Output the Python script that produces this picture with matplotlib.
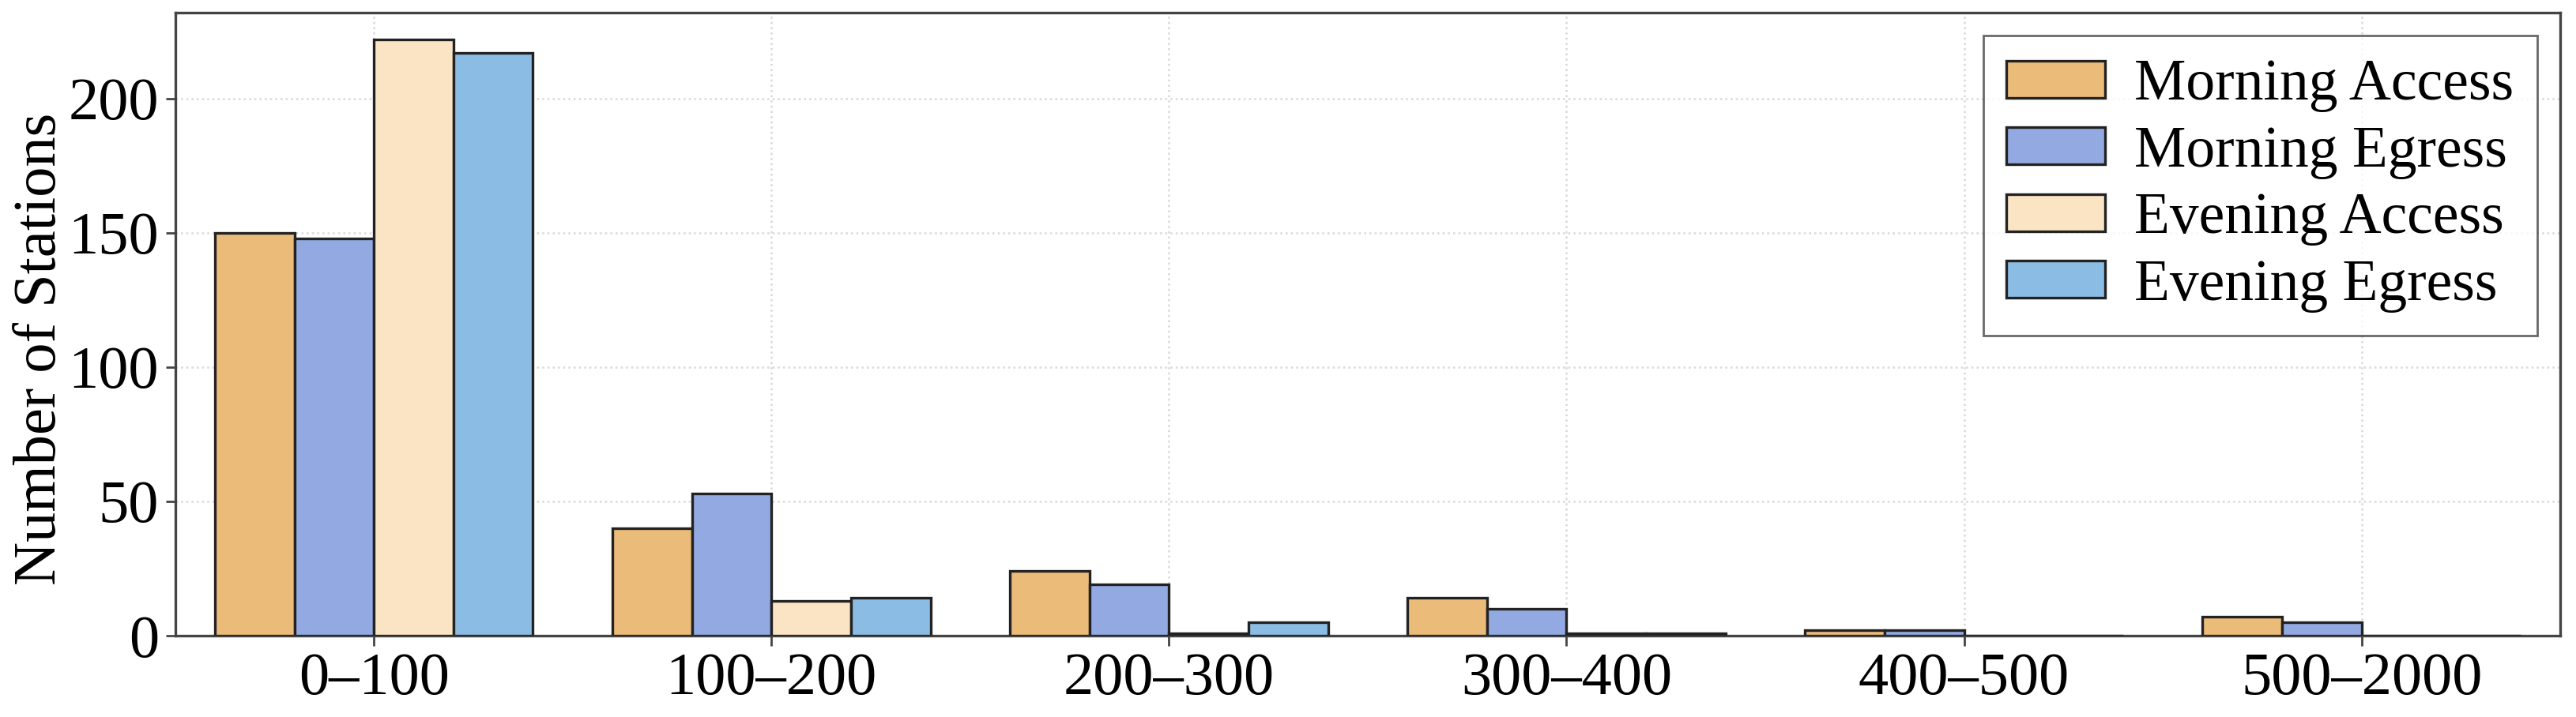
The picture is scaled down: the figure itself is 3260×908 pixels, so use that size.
import numpy as np
import matplotlib
matplotlib.use("Agg")
import matplotlib.pyplot as plt

# distance bins and station counts per period/direction
bins = ["0–100", "100–200", "200–300", "300–400", "400–500", "500–2000"]
morning_access = [150, 40, 24, 14, 2, 7]
morning_egress = [148, 53, 19, 10, 2, 5]
evening_access = [222, 13, 1, 1, 0, 0]
evening_egress = [217, 14, 5, 1, 0, 0]

series = [
    ("Morning Access", morning_access, "#EBBB7A"),
    ("Morning Egress", morning_egress, "#93A9E1"),
    ("Evening Access", evening_access, "#FAE4C4"),
    ("Evening Egress", evening_egress, "#8BBDE4"),
]

plt.rcParams["font.family"] = ["Liberation Serif", "DejaVu Serif"]
plt.rcParams["font.size"] = 27.5

fig = plt.figure(figsize=(16.3, 4.54), dpi=200)
ax = fig.add_axes([0.068, 0.1134, 0.9259, 0.869])

x = np.arange(len(bins))
w = 0.2
for i, (name, vals, col) in enumerate(series):
    ax.bar(x + (i - 1.5) * w, vals, w, color=col, edgecolor="#222222",
           linewidth=1.2, label=name, zorder=3)

ax.set_xlim(-0.5, 5.5)
ax.set_ylim(0, 232)
ax.set_xticks(x)
ax.set_xticklabels(bins)
ax.set_yticks([0, 50, 100, 150, 200])
ax.set_ylabel("Number of Stations")
ax.yaxis.set_label_coords(-0.045, 0.46)

ax.grid(True, linestyle=":", color="#d8d8d8", linewidth=0.9, zorder=0)
for s in ax.spines.values():
    s.set_color("#444444")
    s.set_linewidth(1.2)
ax.tick_params(direction="out", length=4.5, width=1.0, color="#444444", pad=3)

leg = ax.legend(loc="upper right", fancybox=False, edgecolor="#444444",
                fontsize=26.5, handlelength=1.7, handleheight=0.6,
                handletextpad=0.5, labelspacing=0.23, borderpad=0.4,
                borderaxespad=0.4)
leg.get_frame().set_linewidth(1.0)

fig.savefig("out.png", dpi=200)
